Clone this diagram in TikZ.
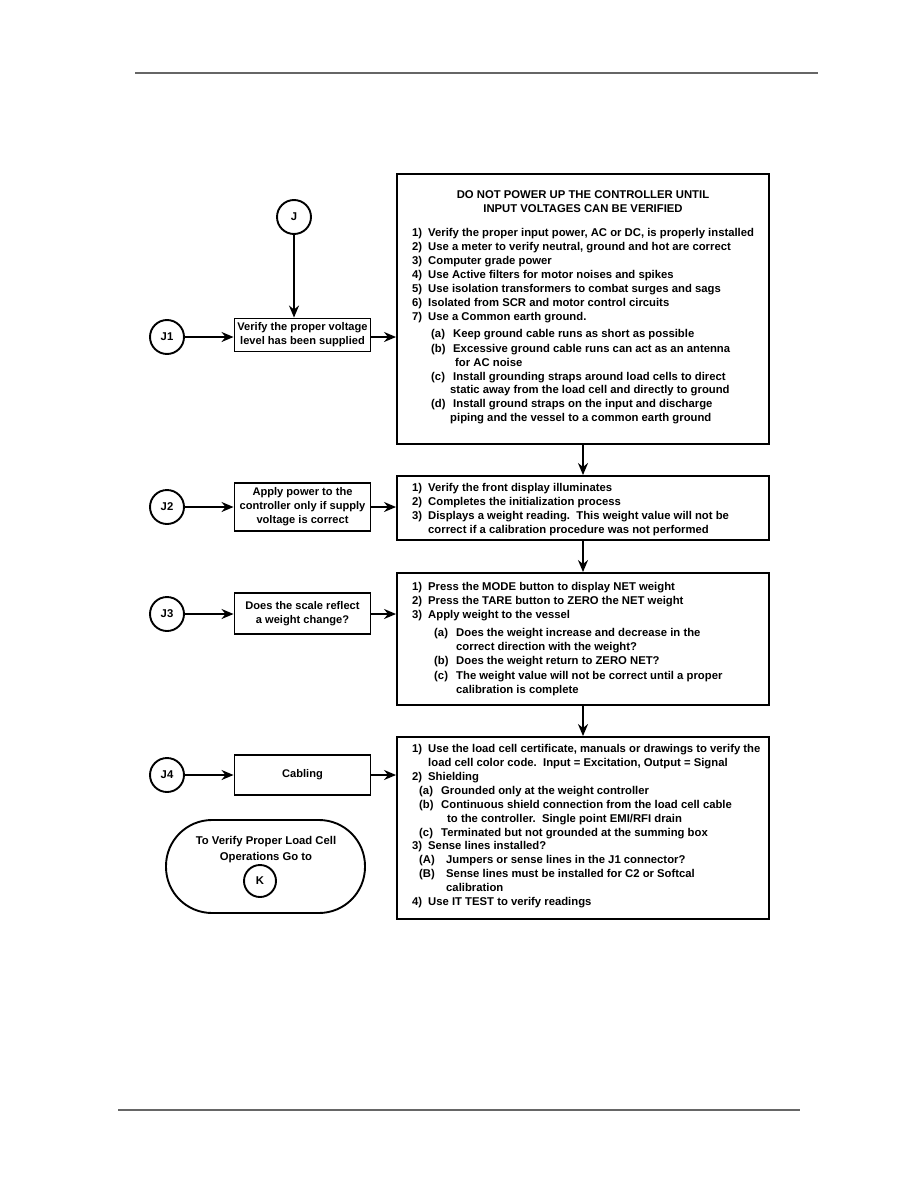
\documentclass[tikz,border=0pt]{standalone}
\usepackage{fontspec}
\setmainfont{Liberation Sans}
\usetikzlibrary{arrows.meta}
\newcommand\numlab[1]{\makebox[16pt][l]{#1}}
\newcommand\sublab[1]{\makebox[22pt][l]{#1}}
\newcommand\bodyfont{\fontsize{11.3}{13}\selectfont\bfseries}
\begin{document}
\begin{tikzpicture}[x=1pt,y=-1pt,
  box/.style={draw, line width=1.9pt, inner sep=0pt},
  conn/.style={draw, circle, line width=1.9pt, minimum size=34pt, inner sep=0pt, font=\bodyfont},
  arr/.style={-{Stealth[length=12pt,width=10pt]}, line width=1.7pt},
  txt/.style={anchor=base west, inner sep=0pt, font=\bodyfont},
  ttl/.style={anchor=base, inner sep=0pt, font=\bodyfont},
  lbox/.style={box, minimum width=136pt, align=center, font=\fontsize{11.1}{14}\selectfont\bfseries},
  rule/.style={draw=black!60, line width=1.6pt}
]
\useasboundingbox (0,0) rectangle (918,1188);
\fill[white] (0,0) rectangle (918,1188);
% header / footer rules
\coordinate (h1) at (135,73); \coordinate (h2) at (818,73);
\draw[rule, line width=1.3pt] (h1) -- (h2);
\coordinate (f1) at (118,1110); \coordinate (f2) at (800,1110);
\draw[rule, line width=2.4pt] (f1) -- (f2);

% big boxes
\node[box, minimum width=372pt, minimum height=270pt] (b1) at (583,309) {};
\node[box, minimum width=372pt, minimum height=64pt] (b2) at (583,508) {};
\node[box, minimum width=372pt, minimum height=132pt] (b3) at (583,639) {};
\node[box, minimum width=372pt, minimum height=182pt] (b4) at (583,828) {};

% connectors (circles)
\node[conn] (J) at (294,217) {J};
\node[conn] (J1) at (167,337) {J1};
\node[conn] (J2) at (167,507) {J2};
\node[conn] (J3) at (167,614) {J3};
\node[conn] (J4) at (167,775) {J4};

% left boxes
\node[lbox, minimum height=33pt] (l1) at (302.5,335) {Verify the proper voltage\\level has been supplied};
\node[lbox, minimum height=48pt] (l2) at (302.5,507) {Apply power to the\\controller only if supply\\voltage is correct};
\node[lbox, minimum height=41pt] (l3) at (302.5,613.5) {Does the scale reflect\\a weight change?};
\node[lbox, minimum height=40pt] (l4) at (302.5,775) {Cabling};

% terminator
\node[draw, line width=1.9pt, minimum width=199pt, minimum height=93pt, rounded corners=46pt, inner sep=0pt] (term) at (265.5,866.5) {};
\node[ttl] (termt1) at (266,844) {To Verify Proper Load Cell};
\node[ttl] (termt2) at (266,860) {Operations Go to};
\node[conn, minimum size=32pt] (K) at (260,881) {K};

% arrows
\draw[arr] (J.south) -- (J.south |- l1.north);
\draw[arr] (J1.east) -- (l1.west |- J1.east);
\draw[arr] (l1.east |- J1.east) -- (b1.west |- J1.east);
\draw[arr] (J2.east) -- (l2.west |- J2.east);
\draw[arr] (l2.east |- J2.east) -- (b2.west |- J2.east);
\draw[arr] (J3.east) -- (l3.west |- J3.east);
\draw[arr] (l3.east |- J3.east) -- (b3.west |- J3.east);
\draw[arr] (J4.east) -- (l4.west |- J4.east);
\draw[arr] (l4.east) -- (b4.west |- l4.east);
\draw[arr] (b1.south) -- (b2.north);
\draw[arr] (b2.south) -- (b3.north);
\draw[arr] (b3.south) -- (b4.north);

% box 1 text
\node[ttl] (t1a) at (583,198) {DO NOT POWER UP THE CONTROLLER UNTIL};
\node[ttl] (t1b) at (583,212) {INPUT VOLTAGES CAN BE VERIFIED};
\node[txt] (a1) at (412,236) {\numlab{1)}Verify the proper input power, AC or DC, is properly installed};
\node[txt] (a2) at (412,250) {\numlab{2)}Use a meter to verify neutral, ground and hot are correct};
\node[txt] (a3) at (412,264) {\numlab{3)}Computer grade power};
\node[txt] (a4) at (412,278) {\numlab{4)}Use Active filters for motor noises and spikes};
\node[txt] (a5) at (412,292) {\numlab{5)}Use isolation transformers to combat surges and sags};
\node[txt] (a6) at (412,306) {\numlab{6)}Isolated from SCR and motor control circuits};
\node[txt] (a7) at (412,320) {\numlab{7)}Use a Common earth ground.};
\node[txt] (a7a) at (431,337) {\sublab{(a)}Keep ground cable runs as short as possible};
\node[txt] (a7b) at (431,352) {\sublab{(b)}Excessive ground cable runs can act as an antenna};
\node[txt] (a7b2) at (455,366) {for AC noise};
\node[txt] (a7c) at (431,380) {\sublab{(c)}Install grounding straps around load cells to direct};
\node[txt] (a7c2) at (450,393) {static away from the load cell and directly to ground};
\node[txt] (a7d) at (431,407) {\sublab{(d)}Install ground straps on the input and discharge};
\node[txt] (a7d2) at (450,421) {piping and the vessel to a common earth ground};

% box 2 text
\node[txt] (c1) at (412,491) {\numlab{1)}Verify the front display illuminates};
\node[txt] (c2) at (412,505) {\numlab{2)}Completes the initialization process};
\node[txt] (c3) at (412,519) {\numlab{3)}Displays a weight reading.\ \ This weight value will not be};
\node[txt] (c3b) at (428,533) {correct if a calibration procedure was not performed};

% box 3 text
\node[txt] (d1) at (412,590) {\numlab{1)}Press the MODE button to display NET weight};
\node[txt] (d2) at (412,604) {\numlab{2)}Press the TARE button to ZERO the NET weight};
\node[txt] (d3) at (412,618) {\numlab{3)}Apply weight to the vessel};
\node[txt] (d3a) at (434,636) {\sublab{(a)}Does the weight increase and decrease in the};
\node[txt] (d3a2) at (456,650) {correct direction with the weight?};
\node[txt] (d3b) at (434,664) {\sublab{(b)}Does the weight return to ZERO NET?};
\node[txt] (d3c) at (434,679) {\sublab{(c)}The weight value will not be correct until a proper};
\node[txt] (d3c2) at (456,693) {calibration is complete};

% box 4 text
\node[txt] (e1) at (412,752) {\numlab{1)}Use the load cell certificate, manuals or drawings to verify the};
\node[txt] (e1b) at (428,766) {load cell color code.\ \ Input = Excitation, Output = Signal};
\node[txt] (e2) at (412,780) {\numlab{2)}Shielding};
\node[txt] (e2a) at (419,794) {\sublab{(a)}Grounded only at the weight controller};
\node[txt] (e2b) at (419,808) {\sublab{(b)}Continuous shield connection from the load cell cable};
\node[txt] (e2b2) at (447,822) {to the controller.\ \ Single point EMI/RFI drain};
\node[txt] (e2c) at (419,836) {\sublab{(c)}Terminated but not grounded at the summing box};
\node[txt] (e3) at (412,849) {\numlab{3)}Sense lines installed?};
\node[txt] (e3a) at (419,863) {\makebox[27pt][l]{(A)}Jumpers or sense lines in the J1 connector?};
\node[txt] (e3b) at (419,877) {\makebox[27pt][l]{(B)}Sense lines must be installed for C2 or Softcal};
\node[txt] (e3b2) at (446,891) {calibration};
\node[txt] (e4) at (412,905) {\numlab{4)}Use IT TEST to verify readings};
\end{tikzpicture}
\end{document}
